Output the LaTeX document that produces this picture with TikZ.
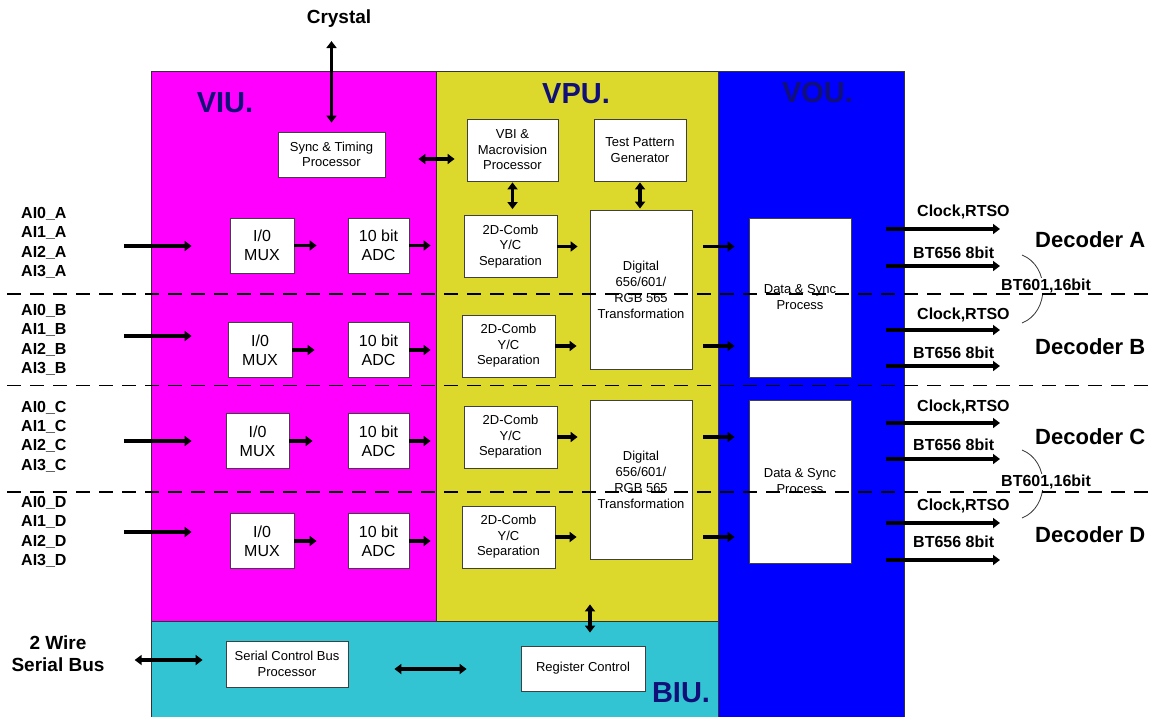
\documentclass[tikz,border=0pt]{standalone}
\usepackage{fontspec}
\setmainfont{Liberation Sans}
\usetikzlibrary{arrows.meta,positioning}
\definecolor{viucol}{RGB}{255,0,255}
\definecolor{vpucol}{RGB}{221,216,44}
\definecolor{voucol}{RGB}{0,0,255}
\definecolor{biucol}{RGB}{51,196,212}
\definecolor{navy}{RGB}{16,16,120}
\newcommand\unitname[1]{{\color{navy}\fontsize{29}{30}\selectfont\bfseries #1}}

\begin{document}
\begin{tikzpicture}[x=1pt,y=-1pt]
      \tikzstyle{blk}=[draw=black!75,fill=white,line width=0.8pt,align=center,inner sep=0pt,font=\fontsize{13}{15.5}\selectfont]
      \tikzstyle{big}=[blk,minimum width=64pt,minimum height=55pt,font=\fontsize{16}{19}\selectfont]
      \tikzstyle{comb}=[blk,minimum width=93pt,minimum height=62pt]
      \tikzstyle{tall}=[blk,minimum width=102pt,minimum height=159pt,font=\fontsize{13}{16}\selectfont]
      \tikzstyle{lbl}=[inner sep=0pt,align=left,font=\fontsize{16}{19.3}\selectfont\bfseries]
      \tikzstyle{dec}=[inner sep=0pt,anchor=west,font=\fontsize{22}{26}\selectfont\bfseries]
      \tikzstyle{arr}=[line width=3.8pt,-{Triangle[length=7pt,width=10pt]}]
      \tikzstyle{dbl}=[line width=3.5pt,{Triangle[length=7pt,width=10pt]}-{Triangle[length=7pt,width=10pt]}]
      \tikzstyle{sep}=[line width=1.8pt,dash pattern=on 14pt off 9pt]
      \useasboundingbox (0,0) rectangle (1151,717);

      % the four units
      \fill[viucol] (151,71) rectangle (436,621);
      \fill[vpucol] (436,71) rectangle (718,621);
      \fill[voucol] (718,71) rectangle (904,717);
      \fill[biucol] (151,621) rectangle (718,717);
      \draw[black!80] (151,717) -- (151,71) -- (904,71) -- (904,717);
      \draw[black!80] (436,71) -- (436,621) (718,71) -- (718,717) (151,621) -- (718,621);
      \node[inner sep=0pt] (viu) at (225,102.5) {\unitname{VIU.}};
      \node[inner sep=0pt] (vpu) at (576,93.5) {\unitname{VPU.}};
      \node[inner sep=0pt] (vou) at (817.5,93) {\unitname{VOU.}};
      \node[inner sep=0pt] (biu) at (681,693) {\unitname{BIU.}};

      % VIU
      \node[inner sep=0pt,font=\fontsize{19}{22}\selectfont\bfseries] (crystal) at (339,19) {Crystal};
      \node[blk,minimum width=107pt,minimum height=45pt] (sync) at (331.5,154.5) {Sync \& Timing\\Processor};
      \node[lbl,anchor=west] (aiA) at (21,243) {AI0\_A\\AI1\_A\\AI2\_A\\AI3\_A};
      \node[lbl,anchor=west] (aiB) at (21,340) {AI0\_B\\AI1\_B\\AI2\_B\\AI3\_B};
      \node[lbl,anchor=west] (aiC) at (21,436.5) {AI0\_C\\AI1\_C\\AI2\_C\\AI3\_C};
      \node[lbl,anchor=west] (aiD) at (21,532) {AI0\_D\\AI1\_D\\AI2\_D\\AI3\_D};
      \node[big] (muxA) at (262,245.5) {I/0\\MUX};
      \node[big] (muxB) at (260,350) {I/0\\MUX};
      \node[big,minimum width=63pt] (muxC) at (257.5,441) {I/0\\MUX};
      \node[big] (muxD) at (262,541) {I/0\\MUX};
      \node[big,minimum width=61pt] (adcA) at (378.5,245.5) {10 bit\\ADC};
      \node[big,minimum width=61pt] (adcB) at (378.5,350) {10 bit\\ADC};
      \node[big,minimum width=61pt] (adcC) at (378.5,441) {10 bit\\ADC};
      \node[big,minimum width=61pt] (adcD) at (378.5,541) {10 bit\\ADC};

      % VPU
      \node[blk,minimum width=91pt,minimum height=62pt] (vbi) at (512.5,150) {VBI \&\\Macrovision\\Processor};
      \node[blk,minimum width=92pt,minimum height=62pt] (tpg) at (640,150) {Test Pattern\\Generator};
      \node[comb] (combA) at (510.5,246.5) {2D-Comb\\Y/C\\Separation};
      \node[comb] (combB) at (508.5,346) {2D-Comb\\Y/C\\Separation};
      \node[comb] (combC) at (510.5,437) {2D-Comb\\Y/C\\Separation};
      \node[comb] (combD) at (508.5,537) {2D-Comb\\Y/C\\Separation};
      \node[tall] (digAB) at (641,289.5) {Digital\\656/601/\\RGB 565\\Transformation};
      \node[tall] (digCD) at (641,479.5) {Digital\\656/601/\\RGB 565\\Transformation};

      % VOU
      \node[tall] (dsAB) at (800,297.5) {Data \& Sync\\Process};
      \node[tall,minimum height=163pt] (dsCD) at (800,481.5) {Data \& Sync\\Process};

      % BIU
      \node[inner sep=0pt,align=center,font=\fontsize{19}{22}\selectfont\bfseries] (bus) at (58,654) {2 Wire\\Serial Bus};
      \node[blk,minimum width=122pt,minimum height=46pt] (scb) at (287,664) {Serial Control Bus\\Processor};
      \node[blk,minimum width=124pt,minimum height=45pt] (reg) at (583,668.5) {Register Control};

      % connections
      \draw[dbl,shorten <=9pt,shorten >=13pt] (sync.north) -- (sync.north |- crystal.south);
      \draw[dbl,shorten <=33pt,shorten >=12pt] ([yshift=-4.5pt]sync.east) -- ([yshift=-4.5pt]sync.east -| vbi.west);
      \draw[dbl,shorten <=1pt,shorten >=6pt] (vbi.south) -- (vbi.south |- combA.north);
      \draw[dbl,shorten <=1pt,shorten >=1pt] (tpg.south) -- (tpg.south |- digAB.north);
      \draw[arr,shorten <=57pt,shorten >=38pt] ([yshift=-3pt]aiA.east) -- ([yshift=-3pt]aiA.east -| muxA.west);
      \draw[arr,shorten <=57pt,shorten >=36pt] ([yshift=4pt]aiB.east) -- ([yshift=4pt]aiB.east -| muxB.west);
      \draw[arr,shorten <=57pt,shorten >=34pt] ([yshift=-4.5pt]aiC.east) -- ([yshift=-4.5pt]aiC.east -| muxC.west);
      \draw[arr,shorten <=57pt,shorten >=38pt] (aiD.east) -- (aiD.east -| muxD.west);
      \draw[arr,shorten >=31pt] (muxA) -- (adcA);
      \draw[arr,shorten >=33pt] (muxB) -- (adcB);
      \draw[arr,shorten >=35pt] (muxC) -- (adcC);
      \draw[arr,shorten >=31pt] (muxD) -- (adcD);
      \draw[arr,shorten >=33pt] (adcA) -- (adcA -| combA.west);
      \draw[arr,shorten >=31pt] (adcB) -- (adcB -| combB.west);
      \draw[arr,shorten >=33pt] (adcC) -- (adcC -| combC.west);
      \draw[arr,shorten >=31pt] (adcD) -- (adcD -| combD.west);
      \draw[arr,shorten >=12pt] (combA) -- (combA -| digAB.west);
      \draw[arr,shorten >=13pt] (combB) -- (combB -| digAB.west);
      \draw[arr,shorten >=12pt] (combC) -- (combC -| digCD.west);
      \draw[arr,shorten >=13pt] (combD) -- (combD -| digCD.west);
      \draw[arr,shorten <=11pt,shorten >=14pt] (combA -| digAB.east) -- (combA -| dsAB.west);
      \draw[arr,shorten <=11pt,shorten >=14pt] (combB -| digAB.east) -- (combB -| dsAB.west);
      \draw[arr,shorten <=11pt,shorten >=14pt] (combC -| digCD.east) -- (combC -| dsCD.west);
      \draw[arr,shorten <=11pt,shorten >=14pt] (combD -| digCD.east) -- (combD -| dsCD.west);
      \draw[dbl,shorten <=23pt,shorten >=30pt] ([yshift=4pt]scb.west) -- ([yshift=4pt]scb.west -| bus.east);
      \draw[dbl,shorten <=46pt,shorten >=54pt] ([yshift=-5pt]scb.east) -- ([yshift=-5pt]scb.east -| reg.west);
      \draw[dbl,shorten <=13pt,shorten >=45pt] ([xshift=7pt]reg.north) -- ([xshift=7pt]reg.north |- digCD.south);

      % outputs
      \coordinate (oA1) at (1000,229);
      \coordinate (oA2) at (1000,266);
      \coordinate (oB1) at (1000,330);
      \coordinate (oB2) at (1000,366);
      \coordinate (oC1) at (1000,423);
      \coordinate (oC2) at (1000,459);
      \coordinate (oD1) at (1000,523);
      \coordinate (oD2) at (1000,560);
      \draw[arr,shorten <=35pt] (oA1 -| dsAB.east) -- (oA1);
      \draw[arr,shorten <=35pt] (oA2 -| dsAB.east) -- (oA2);
      \draw[arr,shorten <=35pt] (oB1 -| dsAB.east) -- (oB1);
      \draw[arr,shorten <=35pt] (oB2 -| dsAB.east) -- (oB2);
      \draw[arr,shorten <=35pt] (oC1 -| dsCD.east) -- (oC1);
      \draw[arr,shorten <=35pt] (oC2 -| dsCD.east) -- (oC2);
      \draw[arr,shorten <=35pt] (oD1 -| dsCD.east) -- (oD1);
      \draw[arr,shorten <=35pt] (oD2 -| dsCD.east) -- (oD2);
      \node[lbl,anchor=west] (clkA) at (917,212) {Clock,RTSO};
      \node[lbl,anchor=west] (btA) at (913,253) {BT656 8bit};
      \node[lbl,anchor=west] (clkB) at (917,315) {Clock,RTSO};
      \node[lbl,anchor=west] (btB) at (913,353) {BT656 8bit};
      \node[lbl,anchor=west] (clkC) at (917,407) {Clock,RTSO};
      \node[lbl,anchor=west] (btC) at (913,445) {BT656 8bit};
      \node[lbl,anchor=west] (clkD) at (917,506) {Clock,RTSO};
      \node[lbl,anchor=west] (btD) at (913,542) {BT656 8bit};
      \node[dec] (decA) at (1035,240) {Decoder A};
      \node[dec] (decB) at (1035,347) {Decoder B};
      \node[dec] (decC) at (1035,437) {Decoder C};
      \node[dec] (decD) at (1035,535) {Decoder D};
      \draw[black!80,line width=0.8pt] (1022,255) .. controls (1050,266) and (1050,312) .. (1022,323);
      \draw[black!80,line width=0.8pt] (1022,450) .. controls (1050,461) and (1050,507) .. (1022,518);
      \node[lbl,anchor=west,fill=white,inner sep=1pt] (wideAB) at (1000,286) {BT601,16bit};
      \node[lbl,anchor=west,fill=white,inner sep=1pt] (wideCD) at (1000,482) {BT601,16bit};

      % channel separators
      \draw[sep] (7,294) -- (1151,294);
      \draw[sep] (7,385.5) -- (1151,385.5);
      \draw[sep] (7,492) -- (1151,492);
    \end{tikzpicture}
\end{document}
